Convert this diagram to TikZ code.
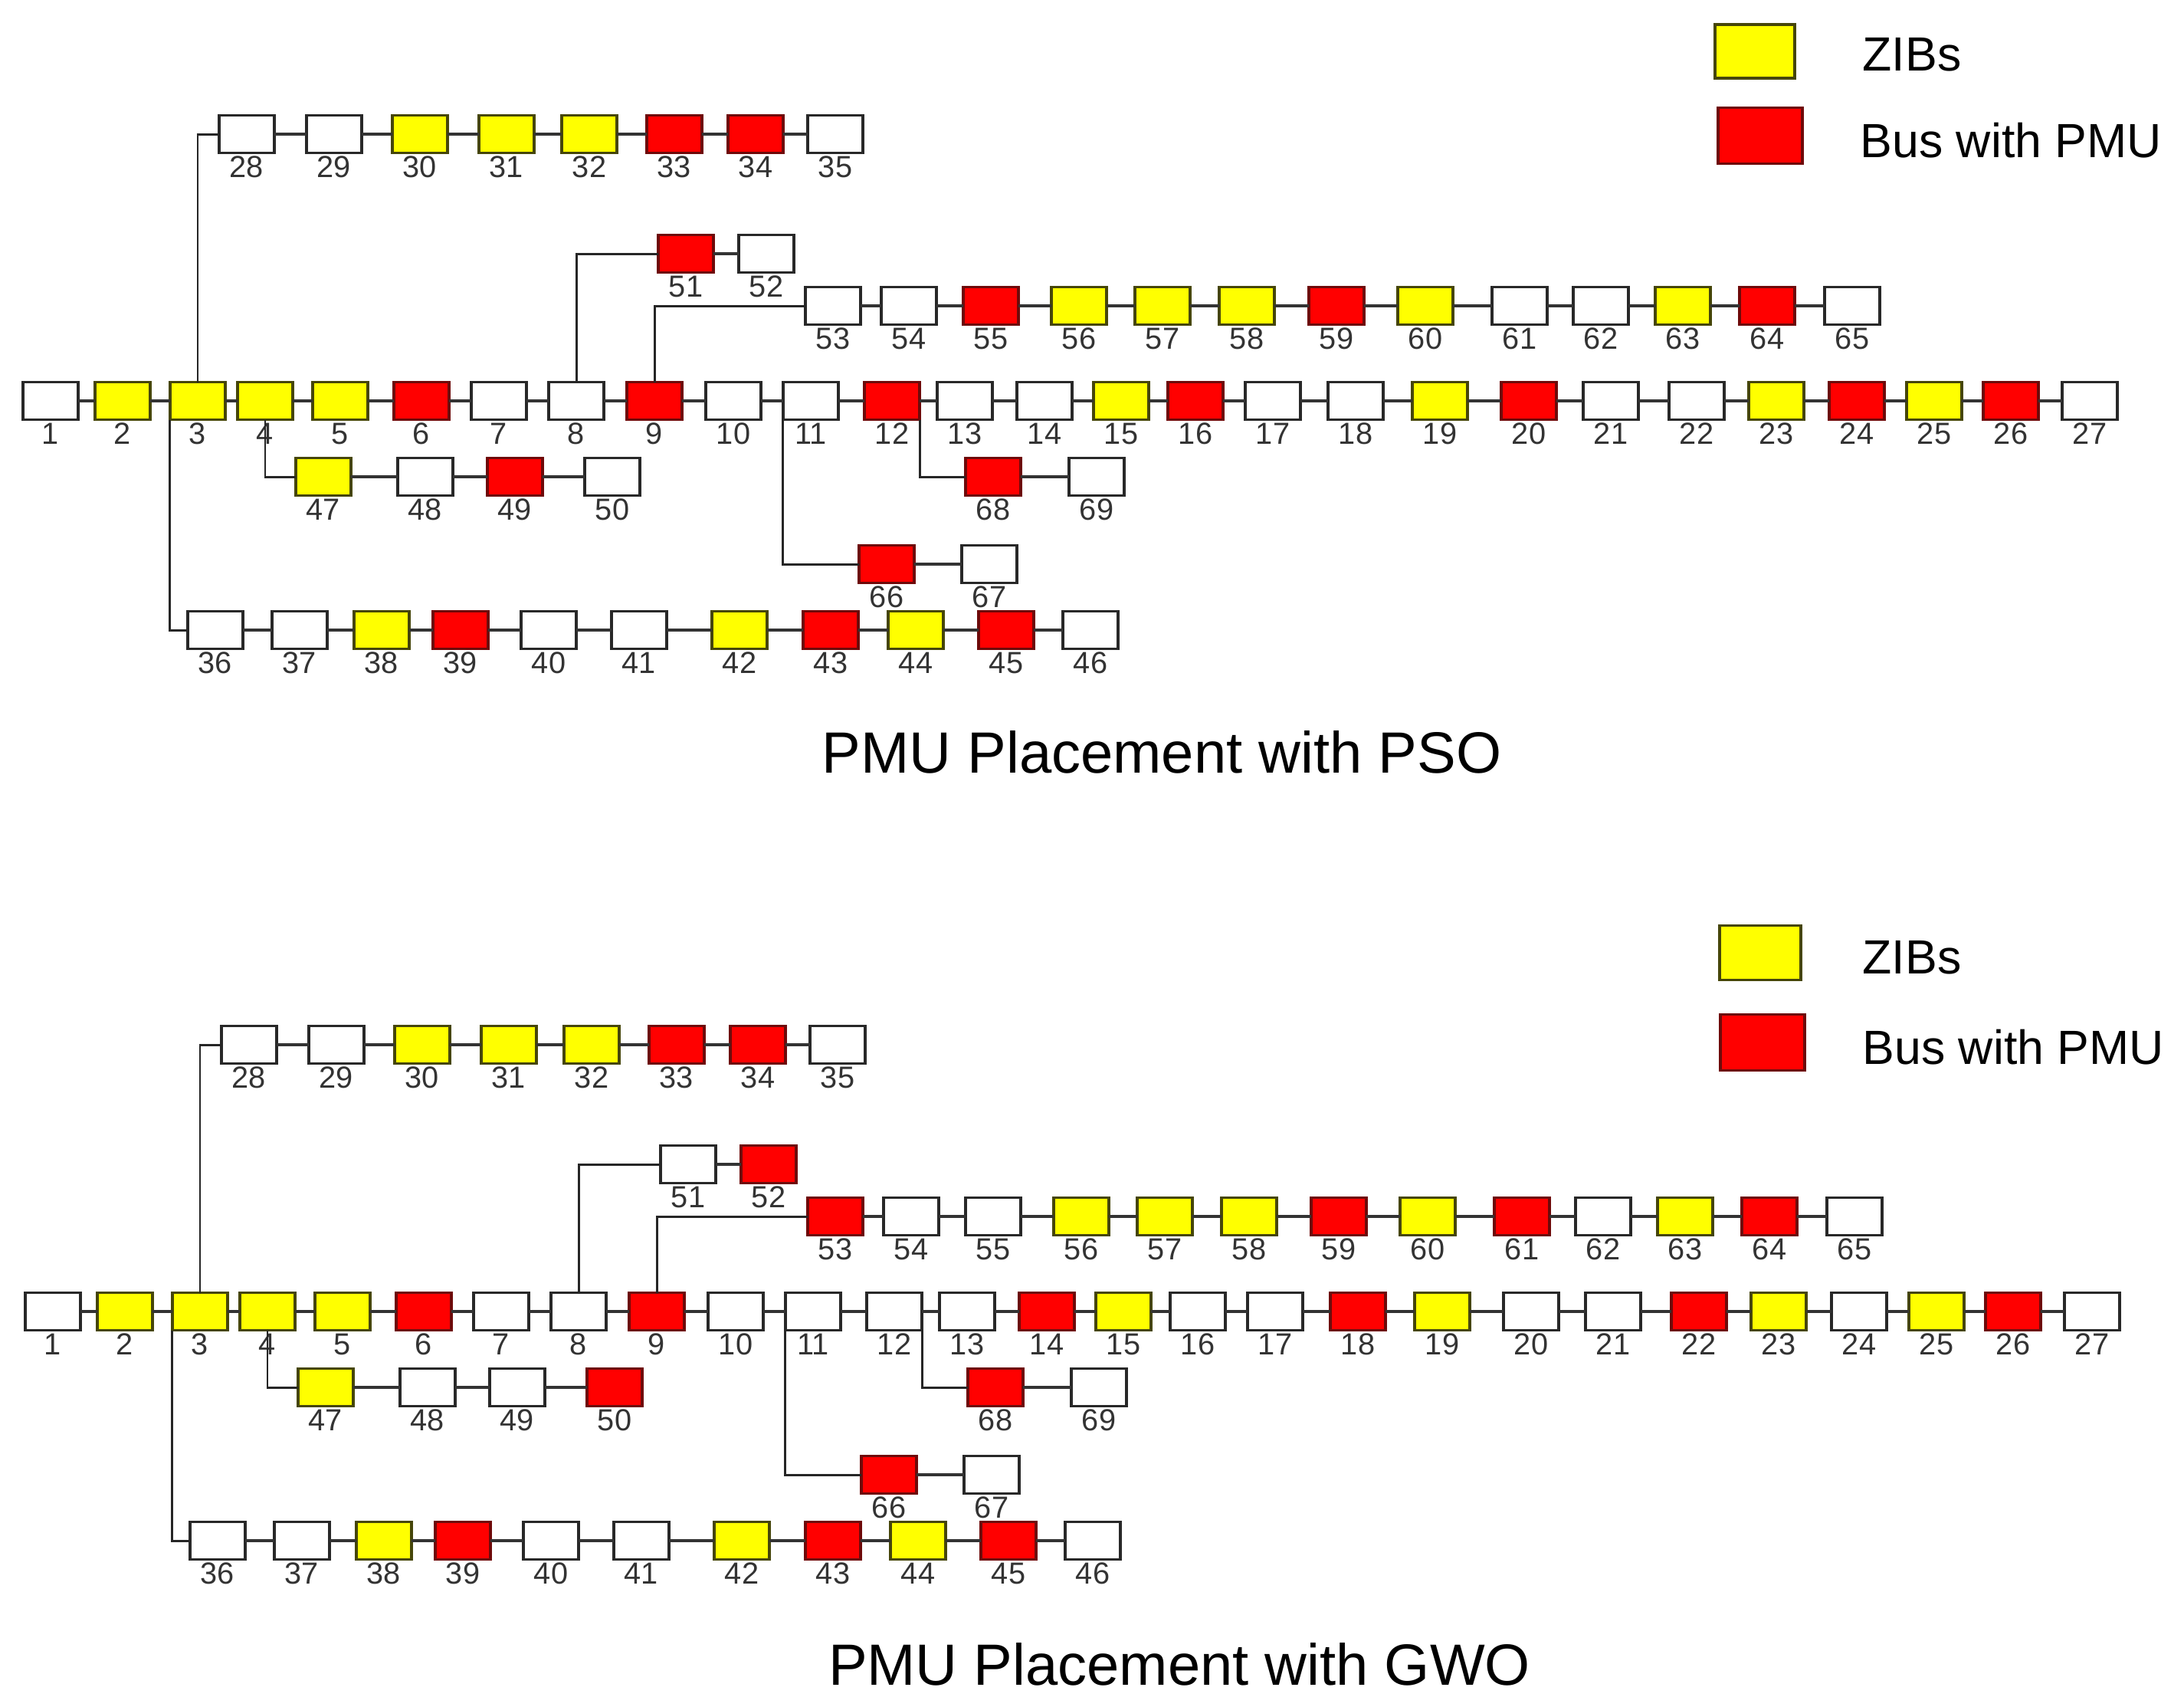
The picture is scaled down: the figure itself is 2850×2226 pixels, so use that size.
\documentclass[tikz,border=0pt]{standalone}
\usepackage{fontspec}
\setmainfont{Liberation Sans}
\definecolor{fY}{RGB}{255,255,0}
\definecolor{fR}{RGB}{255,0,0}
\definecolor{fW}{RGB}{255,255,255}
\definecolor{dY}{RGB}{70,70,10}
\definecolor{dR}{RGB}{110,10,10}
\definecolor{dW}{RGB}{40,40,40}
\tikzset{
  bus/.style={line width=0.9pt, minimum width=0.72cm, minimum height=0.49cm, inner sep=0pt, outer sep=0pt},
  num/.style={font=\fontsize{11.3pt}{13pt}\selectfont, text=black!80, inner sep=0pt},
  wire/.style={draw=black!80, line width=1pt},
  branch/.style={draw=black!85, line width=0.85pt},
  legbox/.style={line width=0.9pt, inner sep=0pt, outer sep=0pt},
  legtext/.style={font=\fontsize{17.8pt}{20pt}\selectfont, anchor=west, inner sep=0pt},
  titletext/.style={font=\fontsize{21.6pt}{24pt}\selectfont, anchor=base, inner sep=0pt},
}
\newcommand\busrow[3]{%
  \foreach \nb/\x/\cl in {#3}{%
    \node[bus, draw=d\cl, fill=f\cl] (#1\nb) at (\x,#2) {};
    \node[num] (#1l\nb) at (\x,#2+43) {\nb};
  }%
}
\newcommand\buschain[3]{%
  \pgfmathtruncatemacro\chainlast{#3-1}%
  \foreach \i in {#2,...,\chainlast}{%
    \pgfmathtruncatemacro\nxt{\i+1}%
    \draw[wire] (#1\i) -- (#1\nxt);
  }%
}
\newcommand\busnet[1]{%
  \buschain{#1}{1}{27}
  \buschain{#1}{28}{35}
  \buschain{#1}{51}{52}
  \buschain{#1}{53}{65}
  \buschain{#1}{47}{50}
  \buschain{#1}{68}{69}
  \buschain{#1}{66}{67}
  \buschain{#1}{36}{46}
  \draw[branch] (#13.north) |- (#128.west);
  \draw[branch] (#13.south west) |- (#136.west);
  \draw[branch] (#14.south) |- (#147.west);
  \draw[branch] (#18.north) |- (#151.west);
  \draw[branch] (#19.north) |- (#153.west);
  \draw[branch] (#111.south west) |- (#166.west);
  \draw[branch] (#112.south east) |- (#168.west);
}
\begin{document}
\begin{tikzpicture}[x=0.01cm, y=-0.01cm]
\fill[white] (0,0) rectangle (2850,2226);
\useasboundingbox (0,0) rectangle (2850,2226);

% ---------------- PSO ----------------
\busrow{a}{523}{1/66/W, 2/160/Y, 3/258/Y, 4/346/Y, 5/444/Y, 6/550/R, 7/651/W, 8/752/W, 9/854/R, 10/957/W, 11/1058/W, 12/1164/R, 13/1259/W, 14/1363/W, 15/1463/Y, 16/1560/R, 17/1661/W, 18/1769/W, 19/1879/Y, 20/1995/R, 21/2102/W, 22/2214/W, 23/2318/Y, 24/2423/R, 25/2524/Y, 26/2624/R, 27/2727/W}
\busrow{a}{175}{28/322/W, 29/436/W, 30/548/Y, 31/661/Y, 32/769/Y, 33/880/R, 34/986/R, 35/1090/W}
\busrow{a}{331}{51/895/R, 52/1000/W}
\busrow{a}{399}{53/1087/W, 54/1186/W, 55/1293/R, 56/1408/Y, 57/1517/Y, 58/1627/Y, 59/1744/R, 60/1860/Y, 61/1983/W, 62/2089/W, 63/2196/Y, 64/2306/R, 65/2417/W}
\busrow{a}{622}{47/422/Y, 48/555/W, 49/672/R, 50/799/W}
\busrow{a}{622}{68/1296/R, 69/1431/W}
\busrow{a}{736}{66/1157/R, 67/1291/W}
\busrow{a}{822}{36/281/W, 37/391/W, 38/498/Y, 39/601/R, 40/716/W, 41/834/W, 42/965/Y, 43/1084/R, 44/1195/Y, 45/1313/R, 46/1423/W}
\busnet{a}

\node[legbox, draw=dY, fill=fY, minimum width=1.04cm, minimum height=0.70cm] (aly) at (2290,67) {};
\node[legtext] (alyt) at (2430,71) {ZIBs};
\node[legbox, draw=dR, fill=fR, minimum width=1.10cm, minimum height=0.73cm] (alr) at (2297,177) {};
\node[legtext] (alrt) at (2427,183) {Bus with PMU};
\node[titletext] (tpso) at (1516,1008) {PMU Placement with PSO};

% ---------------- GWO ----------------
\begin{scope}[shift={(3,1188)}]
\busrow{b}{523}{1/66/W, 2/160/Y, 3/258/Y, 4/346/Y, 5/444/Y, 6/550/R, 7/651/W, 8/752/W, 9/854/R, 10/957/W, 11/1058/W, 12/1164/W, 13/1259/W, 14/1363/R, 15/1463/Y, 16/1560/W, 17/1661/W, 18/1769/R, 19/1879/Y, 20/1995/W, 21/2102/W, 22/2214/R, 23/2318/Y, 24/2423/W, 25/2524/Y, 26/2624/R, 27/2727/W}
\busrow{b}{175}{28/322/W, 29/436/W, 30/548/Y, 31/661/Y, 32/769/Y, 33/880/R, 34/986/R, 35/1090/W}
\busrow{b}{331}{51/895/W, 52/1000/R}
\busrow{b}{399}{53/1087/R, 54/1186/W, 55/1293/W, 56/1408/Y, 57/1517/Y, 58/1627/Y, 59/1744/R, 60/1860/Y, 61/1983/R, 62/2089/W, 63/2196/Y, 64/2306/R, 65/2417/W}
\busrow{b}{622}{47/422/Y, 48/555/W, 49/672/W, 50/799/R}
\busrow{b}{622}{68/1296/R, 69/1431/W}
\busrow{b}{736}{66/1157/R, 67/1291/W}
\busrow{b}{822}{36/281/W, 37/391/W, 38/498/Y, 39/601/R, 40/716/W, 41/834/W, 42/965/Y, 43/1084/R, 44/1195/Y, 45/1313/R, 46/1423/W}
\busnet{b}
\end{scope}

\node[legbox, draw=dY, fill=fY, minimum width=1.06cm, minimum height=0.71cm] (bly) at (2297,1243) {};
\node[legtext] (blyt) at (2430,1249) {ZIBs};
\node[legbox, draw=dR, fill=fR, minimum width=1.10cm, minimum height=0.73cm] (blr) at (2300,1360) {};
\node[legtext] (blrt) at (2430,1366) {Bus with PMU};
\node[titletext] (tgwo) at (1539,2198) {PMU Placement with GWO};
\end{tikzpicture}
\end{document}
